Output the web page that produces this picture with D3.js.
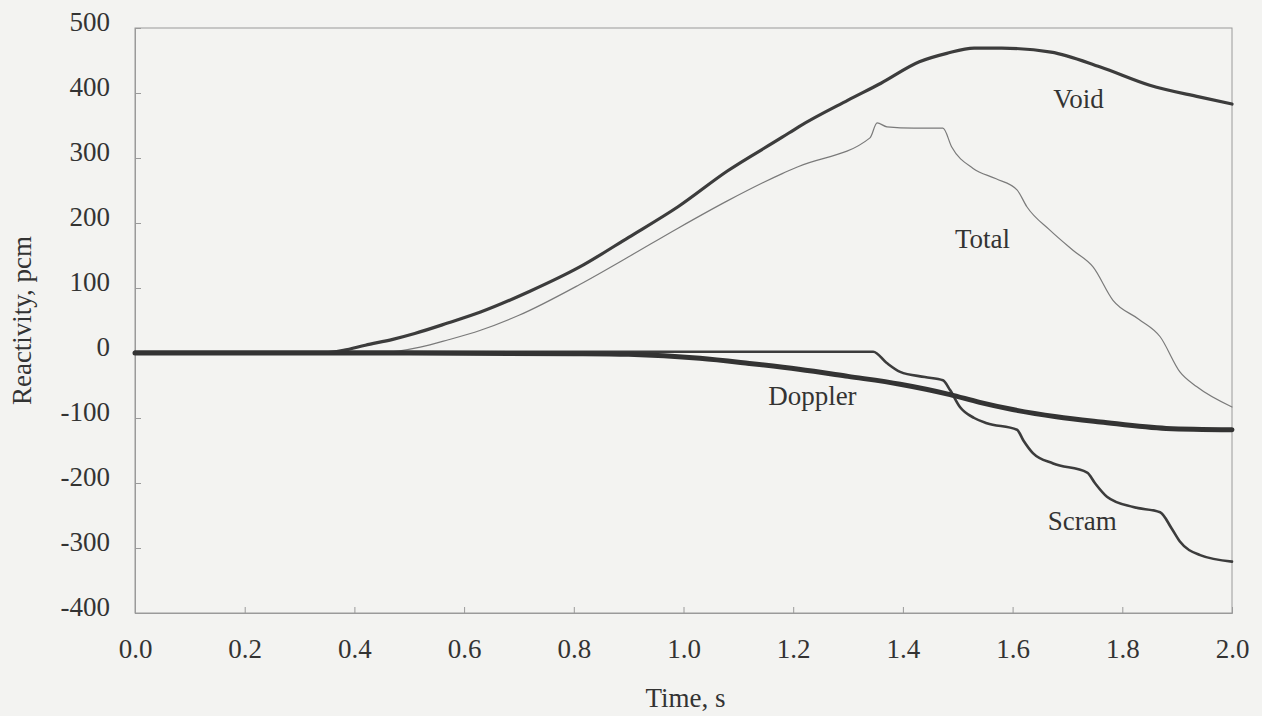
<!DOCTYPE html>
<html>
<head>
<meta charset="utf-8">
<script src="https://cdn.jsdelivr.net/npm/d3@7"></script>
<style>
  body { margin: 0; background: #f3f3f1; }
  text { font-family: "Liberation Serif", "Times New Roman", serif; fill: #333; }
</style>
</head>
<body>
<script>
// values (time in s, reactivity in pcm)
const voidT = [0, 0.2, 0.34, 0.38, 0.42, 0.47, 0.51, 0.57, 0.63, 0.72, 0.81, 0.9, 0.99, 1.08, 1.18, 1.21, 1.3, 1.36, 1.43, 1.48, 1.53, 1.58, 1.67, 1.76, 1.85, 1.94, 2.0];
const voidV = [0, 0, 0, 4, 12, 21, 30, 46, 63, 95, 132, 178, 225, 280, 332, 348, 389, 415, 448, 461, 469, 469, 463, 440, 412, 394, 383];

const totalT = [0, 0.2, 0.44, 0.48, 0.52, 0.57, 0.63, 0.7, 0.81, 0.9, 0.99, 1.08, 1.18, 1.21, 1.34, 1.353, 1.371, 1.42, 1.473, 1.489, 1.528, 1.57, 1.608, 1.626, 1.668, 1.71, 1.747, 1.783, 1.83, 1.869, 1.905, 1.936, 2.0];
const totalV = [0, 0, 0, 3, 9, 20, 35, 58, 105, 148, 192, 234, 276, 287, 331, 354, 348, 346, 346, 317, 284, 268, 251, 225, 189, 158, 132, 81, 52, 25, -29, -52, -83];

const dopplerT = [0, 0.5, 0.8, 0.9, 1.03, 1.12, 1.21, 1.3, 1.395, 1.486, 1.54, 1.6, 1.68, 1.76, 1.88, 2.0];
const dopplerV = [0, 0, -1, -2, -8, -16, -25, -36, -48, -64, -76, -87, -98, -106, -116, -118];

const scramT = [0, 1.346, 1.37, 1.395, 1.44, 1.473, 1.486, 1.504, 1.53, 1.553, 1.608, 1.62, 1.637, 1.674, 1.736, 1.75, 1.772, 1.82, 1.869, 1.89, 1.905, 1.942, 2.0];
const scramV = [2, 2, -15, -29, -37, -42, -57, -83, -100, -108, -118, -135, -154, -170, -184, -200, -221, -237, -245, -270, -290, -311, -321];

const xTicks = [0, 0.2, 0.4, 0.6, 0.8, 1.0, 1.2, 1.4, 1.6, 1.8, 2.0];
const yTicks = [-400, -300, -200, -100, 0, 100, 200, 300, 400, 500];

// label name, t, value (baseline of the text)
const labels = [
    ['Void', 1.72, 377],
    ['Total', 1.545, 161],
    ['Doppler', 1.235, -80],
    ['Scram', 1.727, -272]
];

let width = 1262,
    height = 716;
let margin = {top: 28, right: 30, bottom: 103, left: 135};
let fontSize = 27;

let svg = d3.select('body')
    .append('svg')
    .attr('width', width)
    .attr('height', height);

let x = d3.scaleLinear()
    .domain([0, 2])
    .range([margin.left, width - margin.right]);

let y = d3.scaleLinear()
    .domain([-400, 500])
    .range([height - margin.bottom, margin.top]);

// frame
svg.append('rect')
    .attr('x', x(0))
    .attr('y', y(500))
    .attr('width', x(2) - x(0))
    .attr('height', y(-400) - y(500))
    .attr('fill', 'none')
    .attr('stroke', '#9a9a9a')
    .attr('stroke-width', 1);

let xAxis = d3.axisBottom(x)
    .tickValues(xTicks)
    .tickFormat(d3.format('.1f'))
    .tickSize(-6)
    .tickPadding(26);

let yAxis = d3.axisLeft(y)
    .tickValues(yTicks)
    .tickFormat(d => String(d))
    .tickSize(-6)
    .tickPadding(25);

let gx = svg.append('g')
    .attr('transform', 'translate(0,' + y(-400) + ')')
    .call(xAxis);

let gy = svg.append('g')
    .attr('transform', 'translate(' + x(0) + ',0)')
    .call(yAxis);

[gx, gy].forEach(g => {
    g.select('.domain').attr('stroke', '#9a9a9a');
    g.selectAll('.tick line').attr('stroke', '#9a9a9a');
    g.selectAll('.tick text')
        .style('font-family', '"Liberation Serif", serif')
        .style('font-size', fontSize + 'px')
        .attr('fill', '#333');
});
gy.selectAll('.tick text').attr('y', -6);

// axis titles
svg.append('text')
    .attr('x', (x(0) + x(2)) / 2 + 2)
    .attr('y', 707)
    .attr('text-anchor', 'middle')
    .style('font-size', fontSize + 'px')
    .text('Time, s');

svg.append('text')
    .attr('transform', 'translate(31,' + ((y(500) + y(-400)) / 2) + ') rotate(-90)')
    .attr('text-anchor', 'middle')
    .style('font-size', fontSize + 'px')
    .text('Reactivity, pcm');

function toPoints(ts, vs) {
    return ts.map((t, i) => [t, vs[i]]);
}

let lineSmooth = d3.line()
    .x(d => x(d[0]))
    .y(d => y(d[1]))
    .curve(d3.curveMonotoneX);

function drawLine(data, color, w) {
    svg.append('path')
        .datum(data)
        .attr('d', lineSmooth)
        .attr('fill', 'none')
        .attr('stroke', color)
        .attr('stroke-width', w)
        .attr('stroke-linejoin', 'round')
        .attr('stroke-linecap', 'round');
}

drawLine(toPoints(totalT, totalV), '#7a7a7a', 1.2);
drawLine(toPoints(voidT, voidV), '#3c3c3c', 3.2);
drawLine(toPoints(scramT, scramV), '#3c3c3c', 2.6);
drawLine(toPoints(dopplerT, dopplerV), '#333333', 5);

// curve labels
svg.selectAll('.lbl')
    .data(labels)
    .enter()
    .append('text')
    .attr('class', 'lbl')
    .attr('x', d => x(d[1]))
    .attr('y', d => y(d[2]))
    .attr('text-anchor', 'middle')
    .style('font-size', fontSize + 'px')
    .text(d => d[0]);
</script>
</body>
</html>
